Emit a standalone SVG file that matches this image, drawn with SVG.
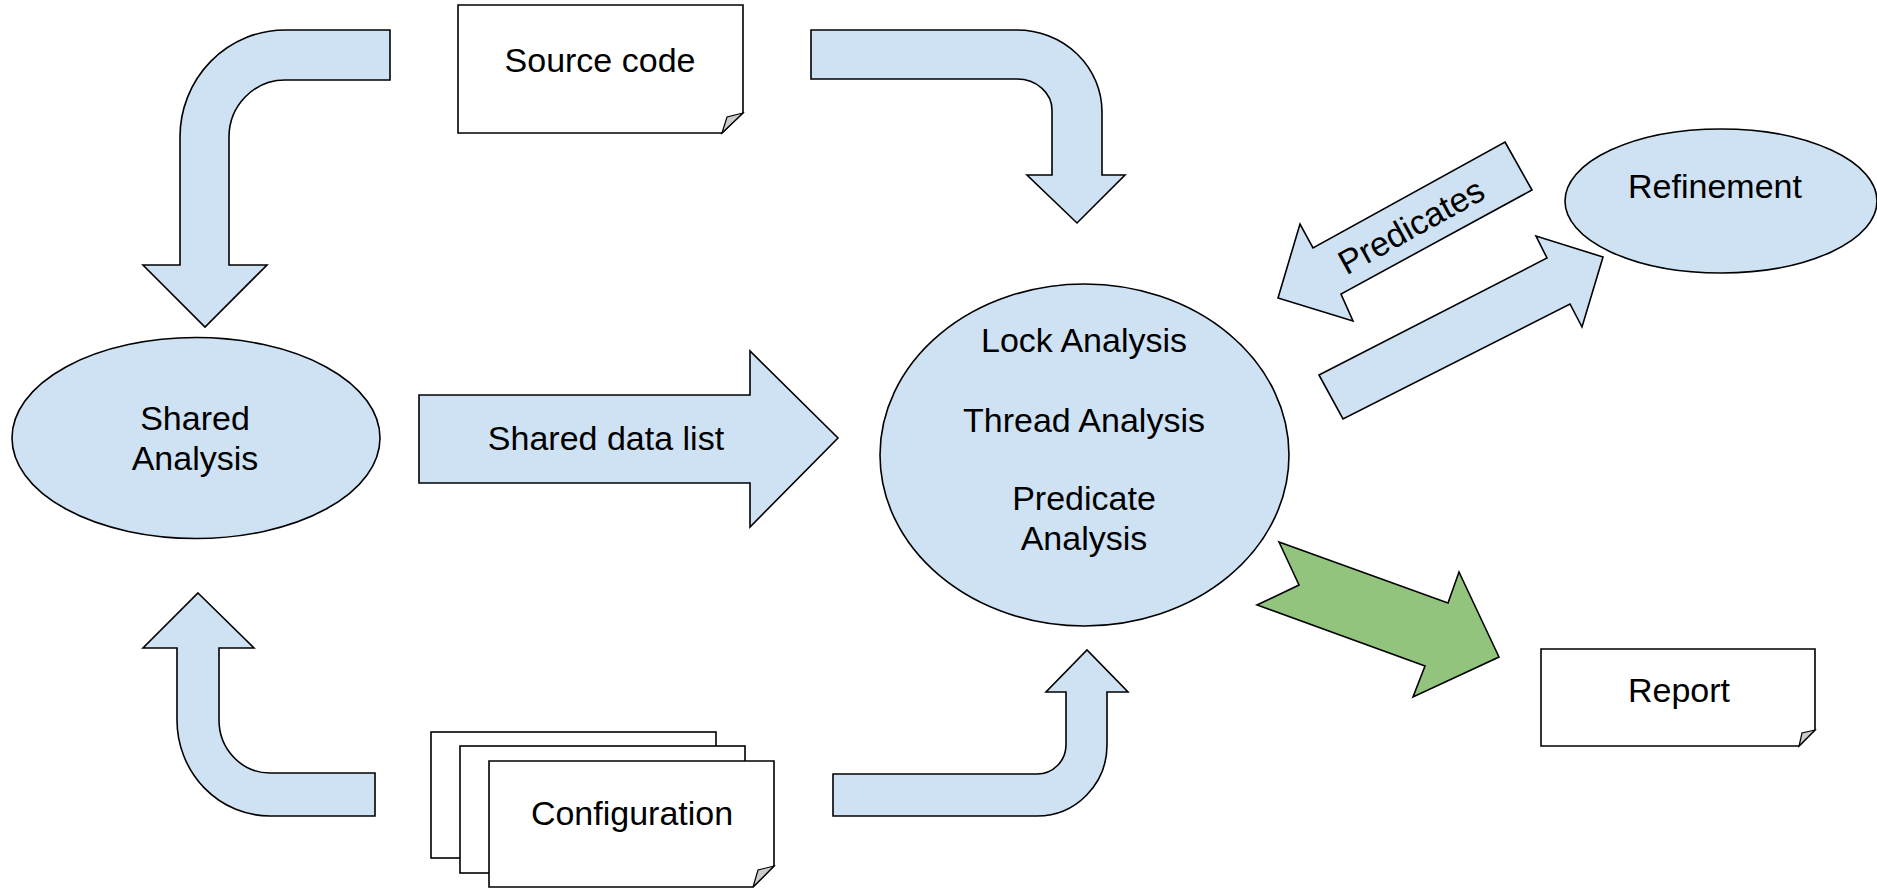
<svg xmlns="http://www.w3.org/2000/svg" width="1877" height="889" viewBox="0 0 1877 889">
<style>
.shape{fill:#cfe2f3;stroke:#000;stroke-width:1.6;stroke-linejoin:miter}
.green{fill:#93c47d;stroke:#000;stroke-width:1.6}
.doc{fill:#fff;stroke:#000;stroke-width:1.6}
.fold{fill:#cccccc;stroke:#000;stroke-width:1.2}
.t{font-family:"Liberation Sans",Arial,sans-serif;font-size:34px;fill:#000;text-anchor:middle}
</style>
<rect width="1877" height="889" fill="#fff"/>
<g id="connectors">
  <path id="arrow-source-shared" class="shape" d="M390,30 H285 A105,107 0 0 0 180,137 V265 H143 L205,327 L267,265 H229 V137 A56,57 0 0 1 285,80 H390 Z"/>
  <path id="arrow-source-main" class="shape" d="M811,30 H1017 A85,82 0 0 1 1102,112 V175 H1125 L1077,223 L1027,175 H1052 V110 A35,31 0 0 0 1017,79 H811 Z"/>
  <path id="arrow-config-shared" class="shape" d="M198,593 L254,648 H219 V720 A51,53 0 0 0 270,773 H375 V816 H270 A93,96 0 0 1 177,720 V648 H143 Z"/>
  <path id="arrow-config-main" class="shape" d="M833,774 H1037 A29,29 0 0 0 1066,745 V692 H1046 L1087,650 L1128,692 H1107 V745 A70,71 0 0 1 1037,816 H833 Z"/>
  <g id="arrow-shared-data">
    <polygon class="shape" points="419,395 750,395 750,351 838,438 750,527 750,483 419,483"/>
    <text class="t" x="606" y="450">Shared data list</text>
  </g>
  <g id="arrow-predicates">
    <polygon class="shape" points="1505,142 1532,190 1341,294 1353,321 1278,298 1300,224 1313,248"/>
    <text class="t" x="1411" y="238" transform="rotate(-29 1411 226)">Predicates</text>
  </g>
  <polygon id="arrow-to-refinement" class="shape" points="1319,375 1547,258 1536,236 1603,257 1582,327 1570,304 1343,419"/>
  <polygon id="arrow-to-report" class="green" points="1279,542 1448,603 1459,572 1499,657 1413,697 1425,666 1257,605 1299,585"/>
</g>
<g id="source-code">
  <path class="doc" d="M458,5 H743 V113 L722,133 H458 Z"/>
  <polygon class="fold" points="743,113 727,117 722,133"/>
  <text class="t" x="600" y="72">Source code</text>
</g>
<g id="shared-analysis">
  <ellipse class="shape" cx="196" cy="438" rx="184" ry="100.5"/>
  <text class="t" x="195" y="430">Shared</text>
  <text class="t" x="195" y="470">Analysis</text>
</g>
<g id="main-analysis">
  <ellipse class="shape" cx="1084.5" cy="455" rx="204.5" ry="171"/>
  <text class="t" x="1084" y="352">Lock Analysis</text>
  <text class="t" x="1084" y="432">Thread Analysis</text>
  <text class="t" x="1084" y="510">Predicate</text>
  <text class="t" x="1084" y="550">Analysis</text>
</g>
<g id="refinement">
  <ellipse class="shape" cx="1721" cy="201" rx="156" ry="72"/>
  <text class="t" x="1715" y="198">Refinement</text>
</g>
<g id="report">
  <path class="doc" d="M1541,649 H1815 V730 L1799,746 H1541 Z"/>
  <polygon class="fold" points="1815,730 1802,733 1799,746"/>
  <text class="t" x="1679" y="702">Report</text>
</g>
<g id="configuration">
  <rect class="doc" x="431" y="732" width="285" height="126"/>
  <rect class="doc" x="460" y="746" width="285" height="127"/>
  <path class="doc" d="M489,761 H774 V866 L753,887 H489 Z"/>
  <polygon class="fold" points="774,866 758,870 753,887"/>
  <text class="t" x="632" y="825">Configuration</text>
</g>
</svg>
